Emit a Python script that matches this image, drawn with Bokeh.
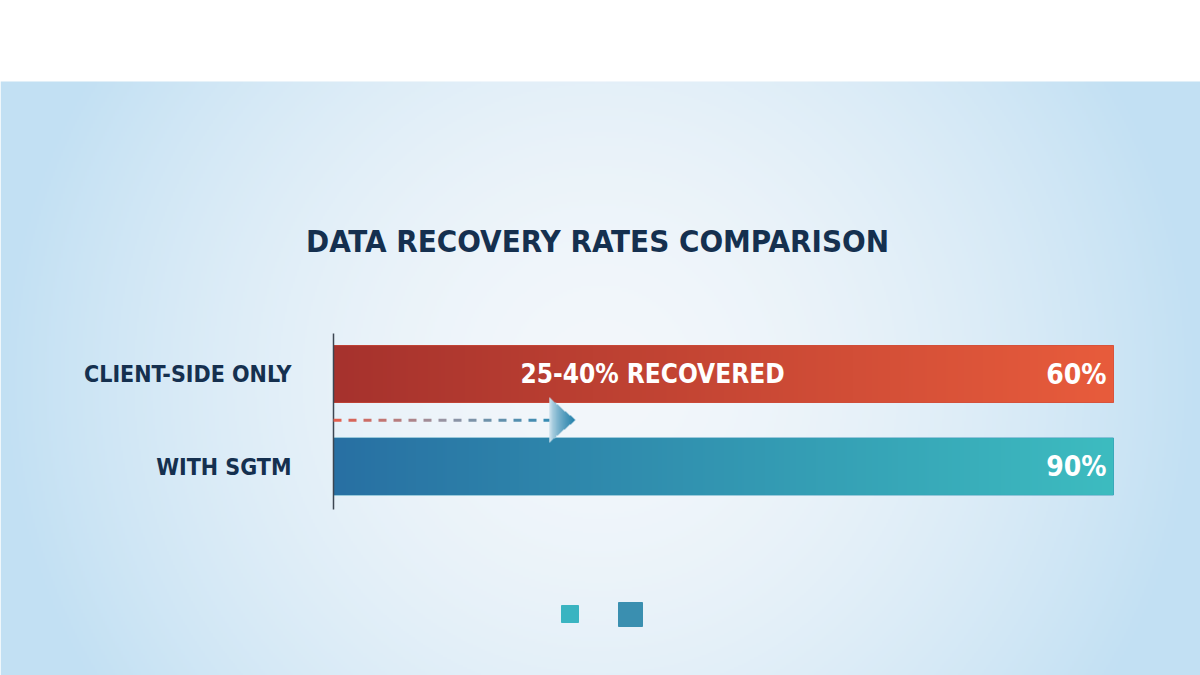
import numpy as np
from bokeh.plotting import figure
from bokeh.models import Range1d, ColumnDataSource
from bokeh.core.properties import value
from bokeh.embed import file_html
from bokeh.resources import INLINE

# ---------------- data ----------------
title_text = "DATA RECOVERY RATES COMPARISON"
categories = ["CLIENT-SIDE ONLY", "WITH SGTM"]
rates = [60, 90]                      # labelled recovery rate (%)
bar_extent = [100, 100]               # bars drawn as full tracks (0-100 scale)
rate_labels = ["60%", "90%"]
annotation_text = "25-40% RECOVERED"
arrow_end = 31                        # dashed arrow reach on the 0-100 scale
bar_left_colors = [(166, 50, 45), (40, 112, 163)]
bar_right_colors = [(232, 92, 60), (61, 188, 192)]
legend_colors = ["#3ab4c1", "#3a8fb0"]
legend_sizes = [17, 24]

# ---------------- geometry helpers (screen px -> data) ----------------
W, H = 1200, 675
OFF = 0
X0_PX, X100_PX = 333, 1113
PX_PER_X = (X100_PX - X0_PX) / 100.0
ROW0_PX, ROW_STEP_PX = 373.5, 92.5


def dx(sx):
    return (sx - X0_PX) / PX_PER_X


def dy(sy):
    return (sy - ROW0_PX) / ROW_STEP_PX


p = figure(width=W, height=H, output_backend="svg", toolbar_location=None,
           x_range=Range1d(dx(OFF), dx(OFF + W)), y_range=Range1d(dy(OFF + H), dy(OFF)),
           min_border=0, outline_line_color=None, background_fill_color="white",
           border_fill_color="white")
p.axis.visible = False
p.grid.visible = False

# ---------------- background gradient (below the white band) ----------------
bh, bw = 297, 600
yy, xx = np.mgrid[0:bh, 0:bw]
u = (xx + 0.5) / bw * 2 - 1
v = (yy + 0.5) / bh * 2 - 1
t = np.clip(np.sqrt((u * 1.0) ** 2 + (v * 0.5) ** 2), 0, 1) ** 1.7
c_center = np.array([243, 247, 251])
c_edge = np.array([194, 224, 243])
rgb = c_center[None, None, :] * (1 - t[..., None]) + c_edge[None, None, :] * t[..., None]
img = np.zeros((bh, bw), dtype=np.uint32)
view = img.view(dtype=np.uint8).reshape((bh, bw, 4))
view[..., 0] = rgb[..., 0].astype(np.uint8)
view[..., 1] = rgb[..., 1].astype(np.uint8)
view[..., 2] = rgb[..., 2].astype(np.uint8)
view[..., 3] = 255
p.image_rgba(image=[img], x=dx(0), y=dy(81), dw=dx(1200) - dx(0), dh=dy(675) - dy(81))

# ---------------- bars ----------------
rows = list(range(len(categories)))
bar_h = 0.615
src = ColumnDataSource(dict(y=rows, right=bar_extent,
                            color=["#cf4a38", "#3596b5"]))
p.hbar(y="y", left=0, right="right", height=bar_h, color="color", source=src)

gw = 400
for i, r in enumerate(rows):
    g = np.zeros((1, gw), dtype=np.uint32)
    gv = g.view(dtype=np.uint8).reshape((1, gw, 4))
    s = np.linspace(0, 1, gw)
    for k in range(3):
        gv[0, :, k] = (bar_left_colors[i][k] * (1 - s) + bar_right_colors[i][k] * s).astype(np.uint8)
    gv[0, :, 3] = 255
    p.image_rgba(image=[g], x=0, y=r - bar_h / 2, dw=bar_extent[i], dh=bar_h)

# ---------------- axis line ----------------
p.segment(x0=[0], y0=[dy(333)], x1=[0], y1=[dy(509)], line_color="#3c4652", line_width=1.5)

# ---------------- dashed arrow ----------------
mid_y = (rows[0] + rows[1]) / 2.0
head_base = arrow_end - 26 / PX_PER_X
dash_len, gap_len = 8 / PX_PER_X, 7 / PX_PER_X
xs0, xs1, cols = [], [], []
c_a = np.array([226, 94, 78])
c_m = np.array([150, 150, 165])
c_b = np.array([52, 140, 180])
x = 0.0
while x < head_base + 0.5:
    e = min(x + dash_len, head_base + 1.0)
    f = x / head_base
    if f < 0.5:
        c = c_a * (1 - 2 * f) + c_m * 2 * f
    else:
        c = c_m * (2 - 2 * f) + c_b * (2 * f - 1)
    xs0.append(x)
    xs1.append(e)
    cols.append("#%02x%02x%02x" % tuple(int(v_) for v_ in c))
    x += dash_len + gap_len
p.segment(x0=xs0, y0=[mid_y] * len(xs0), x1=xs1, y1=[mid_y] * len(xs0),
          line_color=cols, line_width=3)

# arrowhead with a white-to-teal gradient
ah_w, ah_h = 60, 100
ay, ax = np.mgrid[0:ah_h, 0:ah_w]
fx = (ax + 0.5) / ah_w
fy = np.abs((ay + 0.5) / ah_h * 2 - 1)
inside = fy <= (1 - fx)
head = np.zeros((ah_h, ah_w), dtype=np.uint32)
hv = head.view(dtype=np.uint8).reshape((ah_h, ah_w, 4))
c_l = np.array([225, 238, 246])
c_r = np.array([34, 128, 170])
ramp = fx ** 0.6
for k in range(3):
    hv[..., k] = (c_l[k] * (1 - ramp) + c_r[k] * ramp).astype(np.uint8)
hv[..., 3] = np.where(inside, 255, 0).astype(np.uint8)
p.image_rgba(image=[head], x=head_base, y=dy(397), dw=arrow_end - head_base, dh=dy(442) - dy(397))

# ---------------- texts ----------------
FONT = "DejaVu Sans Condensed"
navy = "#15304f"
p.text(x=[dx(597)], y=[dy(240)], text=[title_text], text_font=value(FONT),
       text_font_style="bold", text_font_size="31px", text_color=navy,
       text_align="center", text_baseline="middle")
p.text(x=[dx(291)] * 2, y=rows, text=categories, text_font=value(FONT),
       text_font_style="bold", text_font_size="23px", text_color=navy,
       text_align="right", text_baseline="middle")
p.text(x=[dx(652)], y=[rows[0]], text=[annotation_text], text_font=value(FONT),
       text_font_style="bold", text_font_size="26px", text_color="white",
       text_align="center", text_baseline="middle")
p.text(x=[dx(1106)] * 2, y=rows, text=rate_labels, text_font=value(FONT),
       text_font_style="bold", text_font_size="28px", text_color="white",
       text_align="right", text_baseline="middle")

# ---------------- legend squares ----------------
p.scatter(x=[dx(569.5), dx(630)], y=[dy(613.5), dy(614)], marker="square",
          size=legend_sizes, color=legend_colors)

open("out.html", "w").write(file_html(p, INLINE))
